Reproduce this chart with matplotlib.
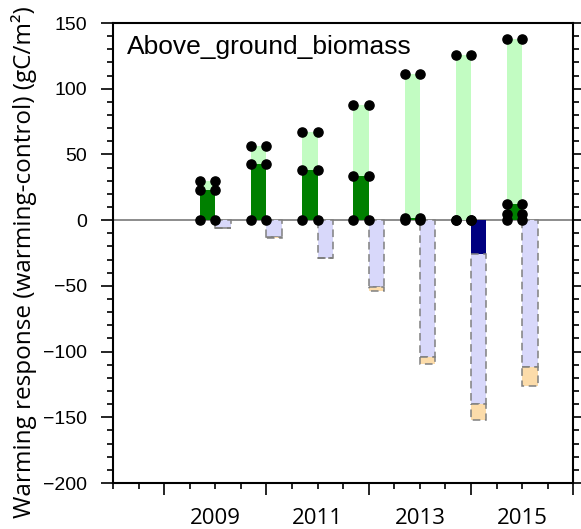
import numpy as np
import matplotlib.pyplot as plt
from matplotlib.ticker import MultipleLocator, FuncFormatter

# values (gC/m2)
years = [2009, 2010, 2011, 2012, 2013, 2014, 2015]
labelled_years = [2009, 2011, 2013, 2015]
dark_green = [23, 43, 38, 33.5, 2, 0, 12]
light_green_top = [29.5, 56.5, 67, 88, 111.5, 126, 137.5]
mid_dot = [None, None, None, None, None, None, 4.5]
navy_neg = [0, 0, 0, 0, 0, -26, 0]
lavender_neg = [-6, -13, -28.5, -51, -104, -140, -112]
wheat_neg = [-6, -13.5, -28.5, -54, -109.5, -152, -126]

bar_w = 0.3

fig = plt.figure(figsize=(5.81, 5.29), dpi=100)
ax = fig.add_axes([0.1945, 0.0869, 0.7923, 0.8696])

x = np.array(years, dtype=float)
dark = np.array(dark_green)
light = np.array(light_green_top)
navy = np.array(navy_neg)
lav = np.array(lavender_neg)
wheat = np.array(wheat_neg)

ax.axhline(0, color='#8c8c8c', lw=1.4, zorder=1)

# positive (green) bars left of each year
ax.bar(x - bar_w, dark, width=bar_w, align='edge', color='#008000', zorder=2)
ax.bar(x - bar_w, light - dark, bottom=dark, width=bar_w, align='edge',
       color='#c2fcc2', zorder=2)

# negative bars right of each year
ax.bar(x, navy, width=bar_w, align='edge', color='#000080', zorder=2)
ax.bar(x, lav - navy, bottom=navy, width=bar_w, align='edge', color='#d8d8fa',
       edgecolor='#808080', linestyle=(0, (5, 3)), linewidth=1.1, zorder=2)
ax.bar(x, wheat - lav, bottom=lav, width=bar_w, align='edge', color='#fcdcaa',
       edgecolor='#808080', linestyle=(0, (5, 3)), linewidth=1.1, zorder=2)

# black dots on the corners of the green bars
for i, yr in enumerate(years):
    levels = [0, dark_green[i], light_green_top[i]]
    if mid_dot[i] is not None:
        levels.append(mid_dot[i])
    for lv in levels:
        ax.plot([yr - bar_w, yr], [lv, lv], 'o', color='black', ms=6.6,
                zorder=5, clip_on=False)

ax.set_xlim(2007, 2016)
ax.set_ylim(-200, 150)

ax.yaxis.set_major_locator(MultipleLocator(50))
ax.yaxis.set_minor_locator(MultipleLocator(10))
ax.xaxis.set_major_locator(MultipleLocator(2))
ax.xaxis.set_minor_locator(MultipleLocator(0.5))
ax.xaxis.set_major_formatter(FuncFormatter(lambda v, p: ''))


def year_label(v, p):
    r = int(round(v))
    if abs(v - r) < 1e-6 and r in labelled_years:
        return str(r)
    return ''


ax.xaxis.set_minor_formatter(FuncFormatter(year_label))

ax.tick_params(axis='y', which='both', direction='out', left=True, right=True,
               width=1.2, labelsize=14, pad=10)
ax.tick_params(axis='y', which='major', length=8.5)
ax.tick_params(axis='y', which='minor', length=4.3)
ax.tick_params(axis='x', which='both', direction='out', top=False, width=1.2)
ax.tick_params(axis='x', which='major', length=8.5)
ax.tick_params(axis='x', which='minor', length=4.3, labelsize=16, pad=14)

for lab in ax.get_yticklabels():
    lab.set_family('Liberation Sans')
for lab in ax.xaxis.get_minorticklabels():
    lab.set_family('Open Sans')

for sp in ax.spines.values():
    sp.set_linewidth(1.5)

ax.text(0.03, 0.948, 'Above_ground_biomass', transform=ax.transAxes,
        fontsize=19, family='Liberation Sans', va='center', ha='left')

ax.set_ylabel('Warming response (warming-control) (gC/m²)', fontsize=17.5,
              family='Open Sans')
ax.yaxis.set_label_coords(-0.165, 0.48)

fig.savefig('out.png', dpi=100)
